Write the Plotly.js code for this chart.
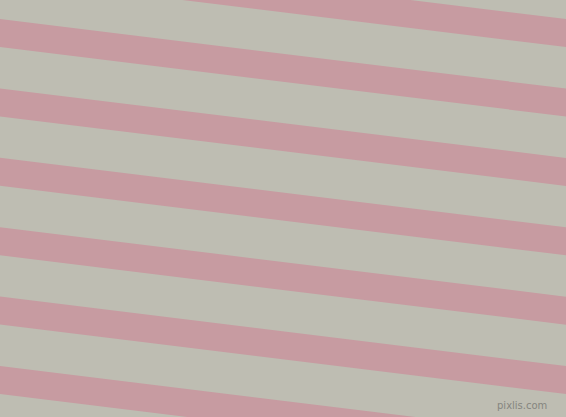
<!DOCTYPE html>
<html>
<head>
<meta charset="utf-8">
<script src="https://cdn.plot.ly/plotly-3.0.1.min.js"></script>
<style>
  html, body { margin: 0; padding: 0; background: #bebdb2; }
  #chart { width: 566px; height: 417px; }
</style>
</head>
<body>
<div id="chart"></div>
<script>
'use strict';

// stripe layout
var stripeTops = [-50.4, 19, 88.4, 157.8, 227.2, 296.6, 366];   // top edge of each pink band at the left side
var stripeAngle = 7;        // degrees, falling to the right
var stripeHeight = 28;      // vertical thickness of a pink band
var canvasW = 566;
var canvasH = 417;

var bgColor = '#bebdb2';
var stripeColor = '#c79ba1';

var slope = Math.tan(stripeAngle * Math.PI / 180);

var traces = stripeTops.map(function (top) {
    var rightTop = top + slope * canvasW;
    return {
        type: 'scatter',
        mode: 'lines',
        x: [0, canvasW, canvasW, 0, 0],
        y: [top, rightTop, rightTop + stripeHeight, top + stripeHeight, top],
        fill: 'toself',
        fillcolor: stripeColor,
        line: { width: 0, color: stripeColor },
        hoverinfo: 'skip',
        showlegend: false
    };
});

var layout = {
    width: canvasW,
    height: canvasH,
    margin: { l: 0, r: 0, t: 0, b: 0 },
    paper_bgcolor: bgColor,
    plot_bgcolor: bgColor,
    xaxis: { range: [0, canvasW], visible: false, fixedrange: true },
    yaxis: { range: [canvasH, 0], visible: false, fixedrange: true },
    annotations: [{
        text: 'pixlis.com',
        xref: 'x', yref: 'y',
        x: 549, y: 413,
        xanchor: 'right', yanchor: 'bottom',
        showarrow: false,
        font: { family: 'DejaVu Sans', size: 10, color: '#85857f' }
    }]
};

Plotly.newPlot('chart', traces, layout, { displayModeBar: false, staticPlot: true });
</script>
</body>
</html>
